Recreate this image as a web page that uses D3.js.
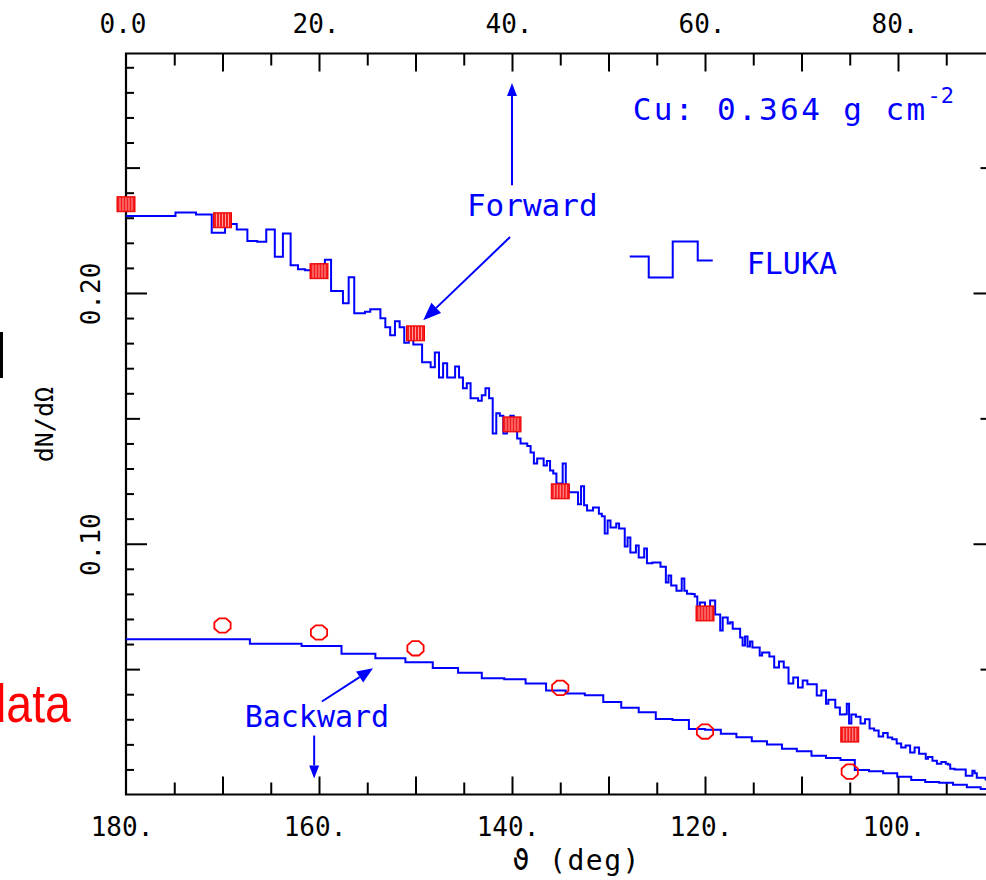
<!DOCTYPE html>
<html><head><meta charset="utf-8">
<script src="https://cdn.jsdelivr.net/npm/d3@7"></script>
<style>html,body{margin:0;padding:0;background:#fff;overflow:hidden}svg{display:block}</style>
</head><body>
<svg id="c" width="986" height="880"></svg>
<script>
// ---------------- DATA ----------------
// FLUKA forward histogram: bins of width 0.004 in cos(theta), from theta=0 (cos=1) towards 90 deg
const forwardCosStep = 0.004;
const forwardValues = [
0.2307,0.2321,0.2313,0.2240,0.2275,0.2253,0.2207,0.2204,0.2253,0.2144,
0.2237,0.2111,0.2095,0.2091,0.2088,0.2114,0.2133,0.2008,0.2008,0.1959,
0.2063,0.1919,0.1919,0.1925,0.1935,0.1935,0.1899,0.1863,0.1831,0.1887,
0.1863,0.1802,0.1860,0.1795,0.1795,0.1724,0.1724,0.1704,0.1763,0.1663,
0.1720,0.1663,0.1663,0.1707,0.1663,0.1620,0.1640,0.1580,0.1580,0.1570,
0.1592,0.1620,0.1580,0.1440,0.1520,0.1510,0.1440,0.1460,0.1510,0.1452,
0.1420,0.1400,0.1400,0.1390,0.1364,0.1320,0.1340,0.1340,0.1312,0.1330,
0.1292,0.1280,0.1240,0.1240,0.1320,0.1233,0.1205,0.1205,0.1205,0.1157,
0.1229,0.1153,0.1133,0.1133,0.1145,0.1145,0.1120,0.1110,0.1041,0.1093,
0.1065,0.1065,0.1081,0.1061,0.1061,0.0989,0.1025,0.0965,0.0965,0.0993,
0.0945,0.0945,0.0981,0.0922,0.0922,0.0925,0.0925,0.0925,0.0908,0.0908,
0.0845,0.0873,0.0833,0.0833,0.0813,0.0813,0.0861,0.0813,0.0801,0.0801,
0.0800,0.0790,0.0722,0.0766,0.0766,0.0746,0.0746,0.0774,0.0774,0.0718,
0.0718,0.0654,0.0706,0.0706,0.0682,0.0687,0.0661,0.0661,0.0661,0.0626,
0.0594,0.0630,0.0590,0.0610,0.0586,0.0586,0.0586,0.0554,0.0566,0.0566,
0.0566,0.0550,0.0550,0.0506,0.0506,0.0530,0.0530,0.0506,0.0506,0.0443,
0.0443,0.0467,0.0467,0.0427,0.0427,0.0455,0.0455,0.0440,0.0440,0.0440,
0.0440,0.0395,0.0395,0.0415,0.0415,0.0362,0.0378,0.0378,0.0378,0.0347,
0.0347,0.0319,0.0319,0.0320,0.0362,0.0283,0.0319,0.0319,0.0310,0.0310,
0.0283,0.0283,0.0300,0.0300,0.0263,0.0263,0.0255,0.0255,0.0231,0.0231,
0.0245,0.0245,0.0227,0.0227,0.0220,0.0220,0.0203,0.0203,0.0187,0.0187,
0.0195,0.0195,0.0167,0.0167,0.0187,0.0187,0.0163,0.0163,0.0163,0.0143,
0.0150,0.0150,0.0135,0.0135,0.0123,0.0123,0.0130,0.0130,0.0123,0.0120,
0.0103,0.0103,0.0100,0.0100,0.0100,0.0100,0.0100,0.0075,0.0075,0.0075,
0.0095,0.0085,0.0067,0.0067,0.0067,0.0067,0.0060,0.0058,0.0055,0.0050
];
// FLUKA backward histogram: bins of width 0.025 in cos(theta), from theta=180 towards 90 deg
const backwardCosStep = 0.025;
const backwardValues = [
0.0619,0.0601,0.0592,0.0561,0.0543,0.0527,0.0504,0.0486,0.0464,0.0460,
0.0443,0.0415,0.0403,0.0396,0.0369,0.0346,0.0328,0.0301,0.0297,0.0261,
0.0258,0.0242,0.0228,0.0212,0.0199,0.0182,0.0172,0.0155,0.0146,0.0138,
0.0098,0.0093,0.0085,0.0071,0.0058,0.0050,0.0047,0.0039,0.0029,0.0022
];
// measured data
const forwardDataAngles = [0,10,20,30,40,45,60,75];
const forwardDataValues = [0.2354,0.2290,0.2087,0.1839,0.1476,0.1209,0.0722,0.0239];
const backwardDataAngles = [170,160,150,135,120,105];
const backwardDataValues = [0.0674,0.0646,0.0583,0.0425,0.0251,0.0091];
// ticks
const topTickValues = [0,20,40,60,80];
const topTickLabels = ["0.0","20.","40.","60.","80."];
const bottomTickValues = [180,160,140,120,100];
const bottomTickLabels = ["180.","160.","140.","120.","100."];
const yTickValues = [0.10,0.20];
const yTickLabels = ["0.10","0.20"];

// ---------------- CHART ----------------
const svg = d3.select("#c");
const L = 126, R = 994.5, T = 53.5, B = 794.5;
const xTop = d3.scaleLinear().domain([0,90]).range([L,R]);
const xBot = d3.scaleLinear().domain([180,90]).range([L,R]);
const y = d3.scaleLinear().domain([0,0.2955]).range([B,T]);
const BLUE = "#0000ff", RED = "#ff0000";
const MONO = "'DejaVu Sans Mono', monospace";

// slide remnants on the left
svg.append("rect").attr("x",0).attr("y",332).attr("width",3).attr("height",46).attr("fill","#000");
svg.append("text").attr("transform","translate(-19.5,722) scale(0.86,1)")
  .attr("font-family","'Liberation Sans', Arial, sans-serif").attr("font-size",54)
  .attr("fill",RED).text("data");

// ticks
function tickSet(axisFn, scale, vals, size, tr){
  const g = svg.append("g").attr("transform",tr)
    .call(axisFn(scale).tickValues(vals).tickSize(size).tickFormat(""));
  g.select(".domain").remove();
  g.selectAll("line").attr("stroke","#000").attr("stroke-width",2);
}
const deg5 = d3.range(5,90,5).filter(d=>d%10!==0);
const deg10 = d3.range(10,90,10);
tickSet(d3.axisTop, xTop, deg5, -12, `translate(0,${T})`);
tickSet(d3.axisTop, xTop, deg10, -18, `translate(0,${T})`);
tickSet(d3.axisBottom, xBot, deg5.map(d=>180-d), -12, `translate(0,${B})`);
tickSet(d3.axisBottom, xBot, deg10.map(d=>180-d), -18, `translate(0,${B})`);
const yMinor = d3.range(1,30).map(d=>d/100).filter(d=>Math.round(d*100)%5!==0);
const yMid = [0.05,0.15,0.25];
const yMaj = [0.10,0.20];
[[d3.axisLeft,L],[d3.axisRight,R]].forEach(([fn,xx])=>{
  tickSet(fn, y, yMinor, -8, `translate(${xx},0)`);
  tickSet(fn, y, yMid, -14, `translate(${xx},0)`);
  tickSet(fn, y, yMaj, -21, `translate(${xx},0)`);
});

// frame
svg.append("path").attr("d",`M${L},${T}H${R}V${B}H${L}Z`)
  .attr("fill","none").attr("stroke","#000").attr("stroke-width",2.2);

// tick labels
svg.append("g").selectAll("text").data(topTickValues).join("text")
  .attr("x",d=>xTop(d)-3).attr("y",33).attr("text-anchor","middle")
  .attr("font-family",MONO).attr("font-size",26).attr("fill","#000")
  .text((d,i)=>topTickLabels[i]);
svg.append("g").selectAll("text").data(bottomTickValues).join("text")
  .attr("x",d=>xBot(d)-4).attr("y",836).attr("text-anchor","middle")
  .attr("font-family",MONO).attr("font-size",26).attr("fill","#000")
  .text((d,i)=>bottomTickLabels[i]);
svg.append("g").selectAll("text").data(yTickValues).join("text")
  .attr("transform",d=>`translate(100,${y(d)+1}) rotate(-90)`).attr("text-anchor","middle")
  .attr("font-family",MONO).attr("font-size",26).attr("fill","#000")
  .text((d,i)=>yTickLabels[i]);

// axis titles
svg.append("text").attr("transform",`translate(53,${y(0.1475)}) rotate(-90)`).attr("text-anchor","middle")
  .attr("font-family",MONO).attr("font-size",25).attr("fill","#000").text("dN/dΩ");
svg.append("text").attr("x",xBot(133.3)).attr("y",870).attr("text-anchor","middle")
  .attr("font-family",MONO).attr("font-size",28).attr("letter-spacing",1.5).attr("fill","#000").text("ϑ (deg)");

// histograms
const stepLine = d3.line().curve(d3.curveStepAfter);
const toDeg = r => r*180/Math.PI;
const fEdges = d3.range(forwardValues.length+1).map(k=>toDeg(Math.acos(Math.max(-1,1-k*forwardCosStep))));
const fPts = forwardValues.map((v,i)=>[xTop(fEdges[i]), y(v)]);
fPts.push([xTop(fEdges[forwardValues.length]), y(forwardValues[forwardValues.length-1])]);
const bEdges = d3.range(backwardValues.length+1).map(k=>180-toDeg(Math.acos(Math.max(-1,1-k*backwardCosStep))));
const bPts = backwardValues.map((v,i)=>[xBot(bEdges[i]), y(v)]);
bPts.push([xBot(bEdges[backwardValues.length]), y(backwardValues[backwardValues.length-1])]);
svg.append("path").attr("d",stepLine(bPts)).attr("fill","none").attr("stroke",BLUE).attr("stroke-width",2);
svg.append("path").attr("d",stepLine(fPts)).attr("fill","none").attr("stroke",BLUE).attr("stroke-width",2);

// forward data: hatched red squares
const sq = svg.append("g").selectAll("g").data(forwardDataAngles).join("g")
  .attr("transform",(d,i)=>`translate(${xTop(d)},${y(forwardDataValues[i])})`);
sq.append("rect").attr("x",-9).attr("y",-7.5).attr("width",18).attr("height",15)
  .attr("fill","#f41c1c").attr("stroke","#ee0000").attr("stroke-width",1);
[-6,-3,0,3,6].forEach(dx=>{
  sq.append("line").attr("x1",dx).attr("x2",dx).attr("y1",-6.5).attr("y2",6.5)
    .attr("stroke","#ff9c9c").attr("stroke-width",1);
});
// backward data: open red octagons
const oct = d3.range(8).map(k=>{const a=(22.5+45*k)*Math.PI/180; return [8.8*Math.cos(a), 7.8*Math.sin(a)];});
svg.append("g").selectAll("path").data(backwardDataAngles).join("path")
  .attr("transform",(d,i)=>`translate(${xBot(d)},${y(backwardDataValues[i])})`)
  .attr("d",d3.line().curve(d3.curveLinearClosed)(oct))
  .attr("fill","none").attr("stroke",RED).attr("stroke-width",1.8);

// annotations
function arrow(x1,y1,x2,y2,len,wid){
  const a = Math.atan2(y2-y1,x2-x1);
  const bx = x2-len*Math.cos(a), by = y2-len*Math.sin(a);
  svg.append("line").attr("x1",x1).attr("y1",y1).attr("x2",bx).attr("y2",by)
    .attr("stroke",BLUE).attr("stroke-width",2);
  const px = -Math.sin(a)*wid/2, py = Math.cos(a)*wid/2;
  svg.append("path").attr("d",`M${x2},${y2}L${bx+px},${by+py}L${bx-px},${by-py}Z`).attr("fill",BLUE);
}
arrow(xTop(40), y(0.243), xTop(40), y(0.2837), 13, 10);
arrow(xTop(39.8), y(0.2223), xTop(30.8), y(0.1891), 18, 14);
arrow(xBot(159.7), y(0.0371), xBot(154.4), y(0.0503), 16, 13);
arrow(xBot(160.5), y(0.0235), xBot(160.5), y(0.0064), 13, 10);

svg.append("text").attr("x",xTop(42.1)).attr("y",y(0.2306)).attr("text-anchor","middle")
  .attr("font-family",MONO).attr("font-size",31).attr("fill",BLUE).text("Forward");
svg.append("text").attr("x",xBot(167.7)).attr("y",y(0.0271))
  .attr("font-family",MONO).attr("font-size",30).attr("fill",BLUE).text("Backward");
const cu = svg.append("text").attr("x",xTop(52.5)).attr("y",y(0.269))
  .attr("font-family",MONO).attr("font-size",31).attr("fill",BLUE).attr("letter-spacing",2.4);
cu.append("tspan").text("Cu: 0.364 g cm");
cu.append("tspan").attr("dy",-17).attr("font-size",22).attr("letter-spacing",0).text("-2");

// legend
const lx = xTop(52.2), ly = y(0.2145);
svg.append("path").attr("d",`M${lx},${ly}h19v21h24v-36h25v19h15`)
  .attr("fill","none").attr("stroke",BLUE).attr("stroke-width",2);
svg.append("text").attr("x",lx+117).attr("y",ly+17)
  .attr("font-family",MONO).attr("font-size",30).attr("fill",BLUE).text("FLUKA");
</script>
</body></html>
